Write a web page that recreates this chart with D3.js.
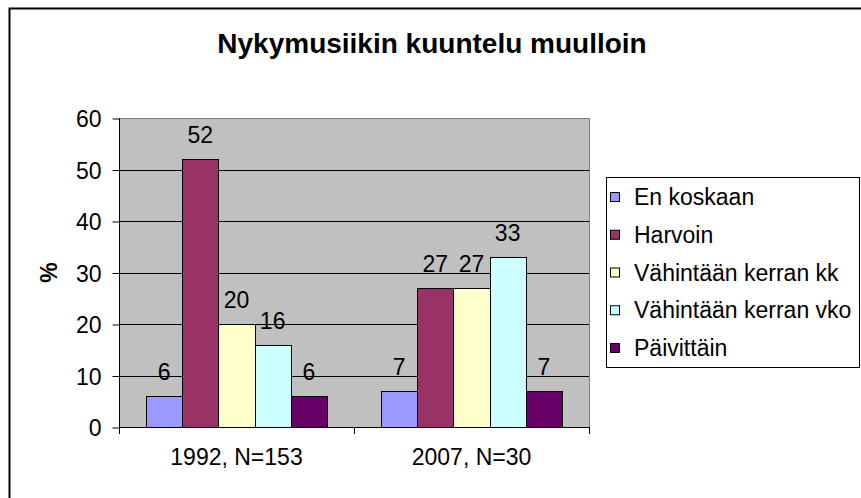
<!DOCTYPE html>
<html>
<head>
<meta charset="utf-8">
<script src="https://cdn.jsdelivr.net/npm/d3@7/dist/d3.min.js"></script>
<style>
  html, body { margin: 0; padding: 0; background: #fff; }
  svg { display: block; font-family: "Liberation Sans", Arial, sans-serif; }
</style>
</head>
<body>
<svg id="chart" width="861" height="498"></svg>
<script>
const title = "Nykymusiikin kuuntelu muulloin";
const categories = ["1992, N=153", "2007, N=30"];
const seriesNames = ["En koskaan", "Harvoin", "Vähintään kerran kk", "Vähintään kerran vko", "Päivittäin"];
const seriesColors = ["#9999FF", "#993366", "#FFFFCC", "#CCFFFF", "#660066"];
const values1992 = [6, 52, 20, 16, 6];
const values2007 = [7, 27, 27, 33, 7];
const yTicks = [0, 10, 20, 30, 40, 50, 60];
const yLabel = "%";

const values = [values1992, values2007];
const FS = 23;

const svg = d3.select("#chart");

// outer chart border (continues past right and bottom edges)
svg.append("rect").attr("x", 9.5).attr("y", 8.5).attr("width", 900).attr("height", 600)
  .attr("fill", "#fff").attr("stroke", "#000").attr("stroke-width", 2);

const plot = { left: 119, right: 589, top: 118, bottom: 427 };

const x0 = d3.scaleBand().domain(categories).range([plot.left, plot.right]);
const y = d3.scaleLinear().domain([0, 60]).range([plot.bottom, plot.top]);

// plot background
svg.append("rect").attr("x", plot.left + 0.5).attr("y", plot.top + 0.5)
  .attr("width", plot.right - plot.left).attr("height", plot.bottom - plot.top)
  .attr("fill", "#C0C0C0").attr("stroke", "#808080").attr("stroke-width", 1);

// gridlines
svg.append("g").selectAll("line").data(yTicks.filter(t => t > 0 && t < 60)).join("line")
  .attr("x1", plot.left).attr("x2", plot.right)
  .attr("y1", d => Math.round(y(d)) + 0.5).attr("y2", d => Math.round(y(d)) + 0.5)
  .attr("stroke", "#000").attr("stroke-width", 1);

// bars (Excel gap width 150%)
const barW = x0.bandwidth() / 6.5;
const groups = svg.append("g").selectAll("g").data(categories).join("g");
groups.each(function(cat, ci) {
  const g = d3.select(this);
  const start = x0(cat) + 0.75 * barW;
  const bx = d3.scaleBand().domain(seriesNames).range([start, start + 5 * barW]);
  g.selectAll("rect").data(values[ci]).join("rect")
    .attr("x", (d, i) => Math.round(bx(seriesNames[i])) + 0.5)
    .attr("y", d => Math.round(y(d)) + 0.5)
    .attr("width", (d, i) => Math.round(bx(seriesNames[i]) + bx.bandwidth()) - Math.round(bx(seriesNames[i])))
    .attr("height", d => Math.round(y(0)) - Math.round(y(d)))
    .attr("fill", (d, i) => seriesColors[i])
    .attr("stroke", "#000").attr("stroke-width", 1);
  g.selectAll("text").data(values[ci]).join("text")
    .attr("x", (d, i) => bx(seriesNames[i]) + bx.bandwidth() / 2)
    .attr("y", d => y(d) - 16)
    .attr("text-anchor", "middle")
    .attr("font-size", FS)
    .attr("fill", "#000")
    .text(d => d);
});

// y axis
const yAxis = d3.axisLeft(y).tickValues(yTicks).tickSize(7).tickPadding(11);
const yg = svg.append("g").attr("transform", `translate(${plot.left + 0.5},0.5)`).call(yAxis);
yg.select(".domain").attr("stroke", "#000").attr("d", `M0,${plot.top}V${plot.bottom + 6}`);
yg.selectAll(".tick line").attr("stroke", "#000");
yg.selectAll(".tick text").attr("font-size", FS).attr("fill", "#000")
  .attr("font-family", "Liberation Sans, Arial, sans-serif").attr("dy", "0.36em");

// x axis
const xAxis = d3.axisBottom(x0).tickSize(0).tickPadding(21);
const xg = svg.append("g").attr("transform", `translate(0,${plot.bottom + 0.5})`).call(xAxis);
xg.select(".domain").attr("stroke", "#000").attr("d", `M${plot.left},0H${plot.right}`);
xg.selectAll(".tick text").attr("font-size", FS).attr("fill", "#000")
  .attr("font-family", "Liberation Sans, Arial, sans-serif");
// category separator ticks
svg.append("g").selectAll("line").data([0, 1, 2]).join("line")
  .attr("x1", i => Math.round(plot.left + i * x0.bandwidth()) + 0.5)
  .attr("x2", i => Math.round(plot.left + i * x0.bandwidth()) + 0.5)
  .attr("y1", plot.bottom).attr("y2", plot.bottom + 7)
  .attr("stroke", "#000");

// y label
svg.append("text").attr("transform", `translate(57,${(plot.top + plot.bottom) / 2}) rotate(-90)`)
  .attr("text-anchor", "middle").attr("font-size", FS).attr("font-weight", "bold").text(yLabel);

// title
svg.append("text").attr("x", 432).attr("y", 53).attr("text-anchor", "middle")
  .attr("font-size", 28).attr("font-weight", "bold").text(title);

// legend
const leg = svg.append("g");
leg.append("rect").attr("x", 606.5).attr("y", 177.5).attr("width", 253).attr("height", 190)
  .attr("fill", "#fff").attr("stroke", "#000");
const ly = d3.scalePoint().domain(seriesNames).range([197, 348]);
seriesNames.forEach((s, i) => {
  leg.append("rect").attr("x", 610.5).attr("y", ly(s) - 4.5).attr("width", 9).attr("height", 9)
    .attr("fill", seriesColors[i]).attr("stroke", "#000");
  leg.append("text").attr("x", 634).attr("y", ly(s) + 8).attr("font-size", FS).text(s);
});
</script>
</body>
</html>
